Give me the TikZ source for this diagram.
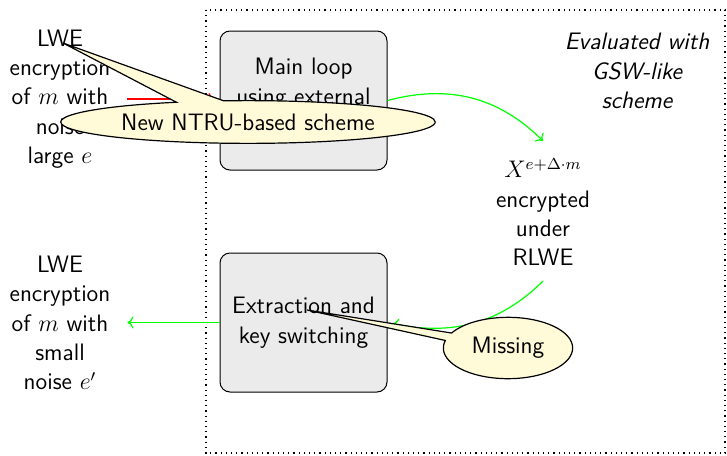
\documentclass[tikz,border=0pt]{standalone}
\usetikzlibrary{shapes.callouts,arrows.meta}
\definecolor{boxgray}{RGB}{235,235,235}
\definecolor{noteyellow}{RGB}{255,250,215}
\definecolor{flowgreen}{RGB}{0,255,0}
\begin{document}
\begin{tikzpicture}[x=0.5pt,y=-0.5pt,
  font=\sffamily\fontsize{11.9}{14.7}\selectfont,
  stage/.style={draw, rounded corners=5pt, fill=boxgray, line width=0.5pt,
    minimum width=83.5pt, minimum height=69.5pt, align=center},
  textblock/.style={align=center},
  flow/.style={-{To[length=3pt,width=6pt]}, line width=0.6pt, flowgreen},
  note/.style={ellipse callout, draw, fill=noteyellow, line width=0.6pt}]
\useasboundingbox (0,0) rectangle (727,455);

% region evaluated with the GSW-like scheme
\draw[dotted, line width=0.6pt] (206,10) rectangle (725,453);

% processing stages
\node[stage] (main) at (303.5,100.5) {Main loop\\using external\\\strut};
\node[stage] (extract) at (303.5,322.5) {Extraction and\\key switching};

% inputs, outputs and intermediate values
\node[textblock] (input) at (60,99) {LWE\\encryption\\of $m$ with\\noise\\large $e$};
\node[textblock] (output) at (60,323) {LWE\\encryption\\of $m$ with\\small\\noise $e'$};
\node[textblock] (ring) at (543,212) {$X^{e+\Delta\cdot m}$\\encrypted\\under\\RLWE};
\node[textblock, font=\sffamily\fontsize{11.9}{14.7}\selectfont\itshape] (gsw) at (637,71)
  {Evaluated with\\GSW-like\\scheme};

% data flow
\draw[flow, red, shorten <=5pt, shorten >=2.5pt] (input.east) -- (input.east -| main.west);
\draw[flow] (main.east) to[out=15, in=135] ([yshift=5pt]ring.north);
\draw[flow, shorten >=2.5pt] ([yshift=-4pt]ring.south) to[out=-135, in=-12] (extract.east);
\draw[flow, shorten >=5pt] (extract.west) -- (extract.west -| output.east);

% annotations
\coordinate (lwetip) at (63,43);
\coordinate (extip) at (307,310);
\node[note, inner xsep=2.8pt, inner ysep=3.3pt, callout absolute pointer=(lwetip)] (ntru) at (248,122)
  {New NTRU-based scheme};
\node[note, inner xsep=4.7pt, inner ysep=5.5pt, callout absolute pointer=(extip)] (missing) at (508,348)
  {Missing};
\end{tikzpicture}
\end{document}
